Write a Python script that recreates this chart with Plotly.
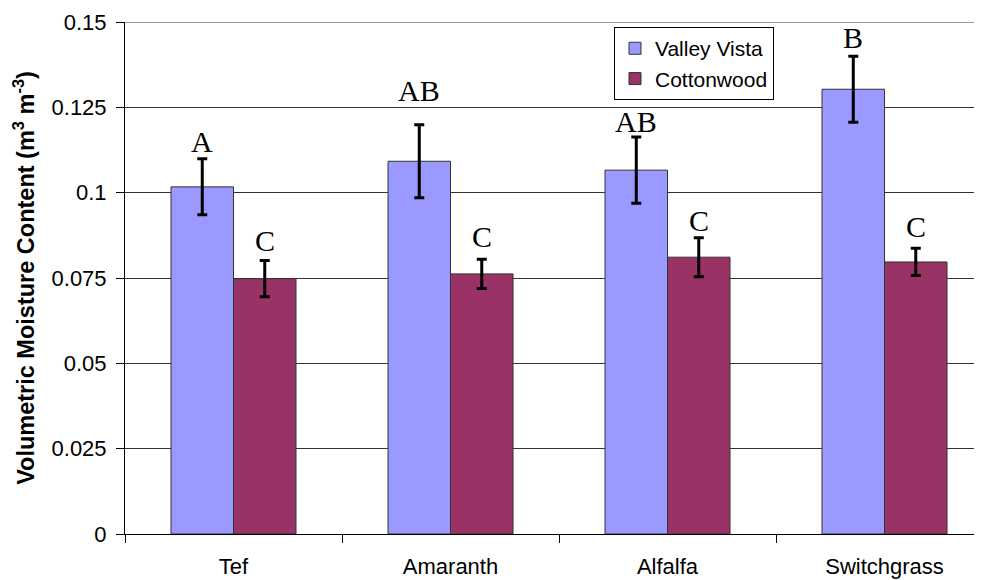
import plotly.graph_objects as go

categories = ["Tef", "Amaranth", "Alfalfa", "Switchgrass"]
valley_vista = [0.1017, 0.1092, 0.1066, 0.1303]
valley_vista_err = [0.0082, 0.0107, 0.0097, 0.0097]
cottonwood = [0.0748, 0.0762, 0.0811, 0.0797]
cottonwood_err = [0.0053, 0.0043, 0.0057, 0.0040]
vv_letters = ["A", "AB", "AB", "B"]
cw_letters = ["C", "C", "C", "C"]
# heights (data units) of the significance letters' baselines
vv_letter_y = [0.1117, 0.1266, 0.1175, 0.1421]
cw_letter_y = [0.0826, 0.0838, 0.0885, 0.0867]
ytick_vals = [0, 0.025, 0.05, 0.075, 0.1, 0.125, 0.15]
ytick_text = ["0", "0.025", "0.05", "0.075", "0.1", "0.125", "0.15"]

fig = go.Figure()
fig.add_trace(go.Bar(
    name="Valley Vista", x=categories, y=valley_vista,
    marker=dict(color="#9999FF", line=dict(color="#333333", width=1)),
    error_y=dict(type="data", array=valley_vista_err, color="black", thickness=3, width=5),
))
fig.add_trace(go.Bar(
    name="Cottonwood", x=categories, y=cottonwood,
    marker=dict(color="#993366", line=dict(color="#333333", width=1)),
    error_y=dict(type="data", array=cottonwood_err, color="black", thickness=3, width=5),
))

annotations = []
for i, c in enumerate(categories):
    annotations.append(dict(x=i - 0.144, y=vv_letter_y[i], xref="x", yref="y",
                            text=vv_letters[i], showarrow=False, yanchor="bottom", yshift=-7,
                            font=dict(family="Liberation Serif", size=30, color="black")))
    annotations.append(dict(x=i + 0.144, y=cw_letter_y[i], xref="x", yref="y",
                            text=cw_letters[i], showarrow=False, yanchor="bottom", yshift=-7,
                            font=dict(family="Liberation Serif", size=30, color="black")))

fig.update_layout(
    width=982, height=580,
    margin=dict(l=117, r=0, t=14, b=54),
    paper_bgcolor="white", plot_bgcolor="white",
    barmode="group", bargap=0.424, bargroupgap=0,
    font=dict(family="Liberation Sans", size=22, color="black"),
    annotations=annotations,
    showlegend=True,
    legend=dict(x=0.5653, y=0.99, xanchor="left", yanchor="top",
                bgcolor="white", bordercolor="black", borderwidth=1,
                font=dict(size=21), itemwidth=30),
    xaxis=dict(
        range=[-0.5, 3.486], showline=True, linecolor="black", linewidth=1,
        ticks="outside", tickson="boundaries", ticklen=8, tickcolor="black",
        showgrid=False, ticklabelstandoff=13, tickfont=dict(size=22),
    ),
    yaxis=dict(
        range=[0, 0.15], tickvals=ytick_vals, ticktext=ytick_text,
        showline=True, linecolor="black", linewidth=1,
        ticks="outside", ticklen=8, tickcolor="black",
        showgrid=True, gridcolor="#333333", gridwidth=1, zeroline=False,
        ticklabelstandoff=5, tickfont=dict(size=22),
        title=dict(text="<b>Volumetric Moisture Content (m<sup>3</sup> m<sup>-3</sup>)</b>",
                   font=dict(size=23.5), standoff=10),
    ),
)
fig.add_shape(type="line", xref="paper", yref="y", x0=0, x1=1, y0=0.15, y1=0.15,
              line=dict(color="#999999", width=2))

fig.write_html("out.html")
